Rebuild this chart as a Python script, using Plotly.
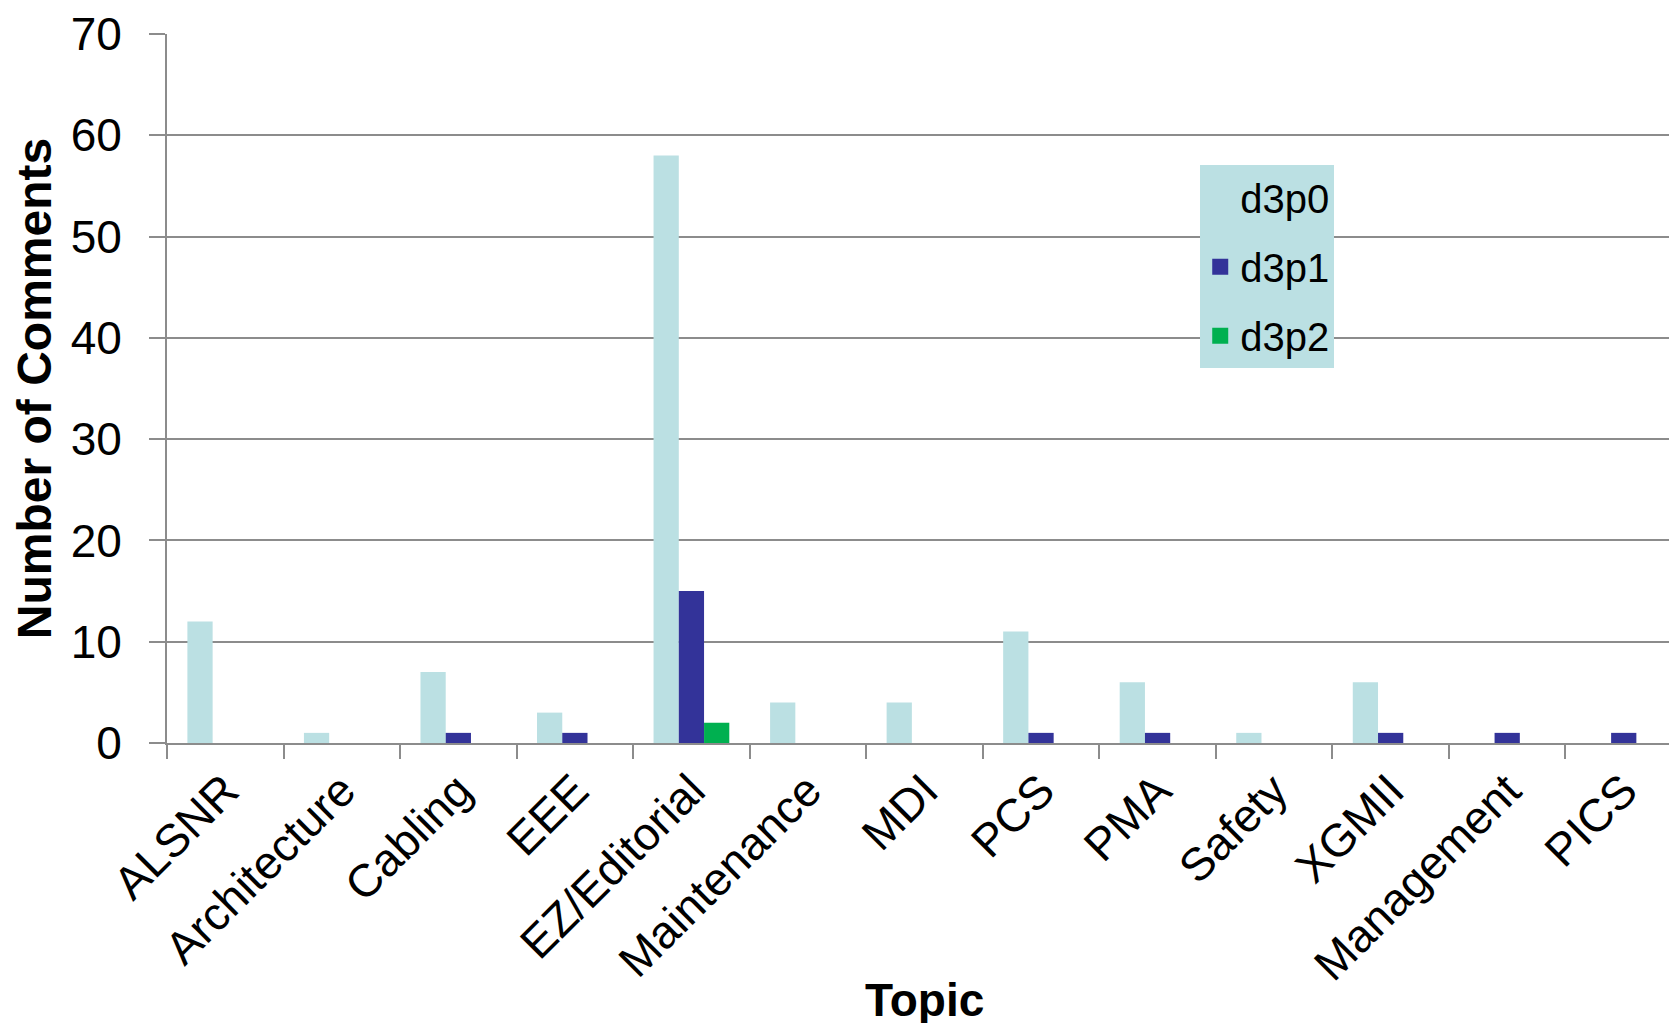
import plotly.graph_objects as go

topics = ["ALSNR", "Architecture", "Cabling", "EEE", "EZ/Editorial", "Maintenance",
          "MDI", "PCS", "PMA", "Safety", "XGMII", "Management", "PICS"]
d3p0 = [12, 1, 7, 3, 58, 4, 4, 11, 6, 1, 6, 0, 0]
d3p1 = [0, 0, 1, 1, 15, 0, 0, 1, 1, 0, 1, 1, 1]
d3p2 = [0, 0, 0, 0, 2, 0, 0, 0, 0, 0, 0, 0, 0]

series = [("d3p0", d3p0, "#BBE0E3"), ("d3p1", d3p1, "#333399"), ("d3p2", d3p2, "#00B050")]

FONT = "Arial, Liberation Sans, sans-serif"
fig = go.Figure()
for name, vals, col in series:
    fig.add_trace(go.Bar(x=topics, y=vals, name=name, marker_color=col,
                         marker_line_width=0, legendgroup=name, showlegend=False))
# legend entries with larger square swatches
for name, vals, col in series:
    fig.add_trace(go.Scatter(x=[None], y=[None], mode="markers", name=name,
                             marker=dict(symbol="square", size=16, color=col),
                             legendgroup=name, showlegend=True))

fig.update_layout(
    width=1677, height=1023,
    margin=dict(l=159, r=3, t=26, b=288, autoexpand=False),
    plot_bgcolor="white", paper_bgcolor="white",
    barmode="group", bargap=0.35, bargroupgap=0,
    font=dict(family=FONT, color="black", size=42),
    legend=dict(x=0.682, y=0.815, xanchor="left", yanchor="top",
                bgcolor="#BBE0E3", font=dict(size=40, family=FONT),
                tracegroupgap=14, traceorder="grouped", itemwidth=30),
    xaxis=dict(
        tickangle=-45, tickson="boundaries", ticks="outside", ticklen=14,
        tickcolor="#8C8C8C", tickwidth=2, showline=True, linecolor="#8C8C8C",
        linewidth=2, tickfont=dict(size=46, family=FONT), showgrid=False,
        automargin=False,
    ),
    yaxis=dict(
        title=dict(text="<b>Number of Comments</b>", font=dict(size=48, family=FONT), standoff=10),
        range=[0, 70], dtick=10, ticks="outside", ticklen=16, tickcolor="#8C8C8C",
        tickwidth=2, showline=True, linecolor="#8C8C8C", linewidth=2,
        showgrid=True, gridcolor="#8C8C8C", gridwidth=2, zeroline=False,
        tickfont=dict(size=46, family=FONT), ticklabelstandoff=18,
        ticklabeloverflow="allow", automargin=False,
    ),
    annotations=[dict(text="<b>Topic</b>", xref="paper", yref="paper", x=0.5, y=-0.363,
                      xanchor="center", yanchor="middle", showarrow=False,
                      font=dict(size=46, family=FONT, color="black"))],
)

fig.write_html("out.html")
